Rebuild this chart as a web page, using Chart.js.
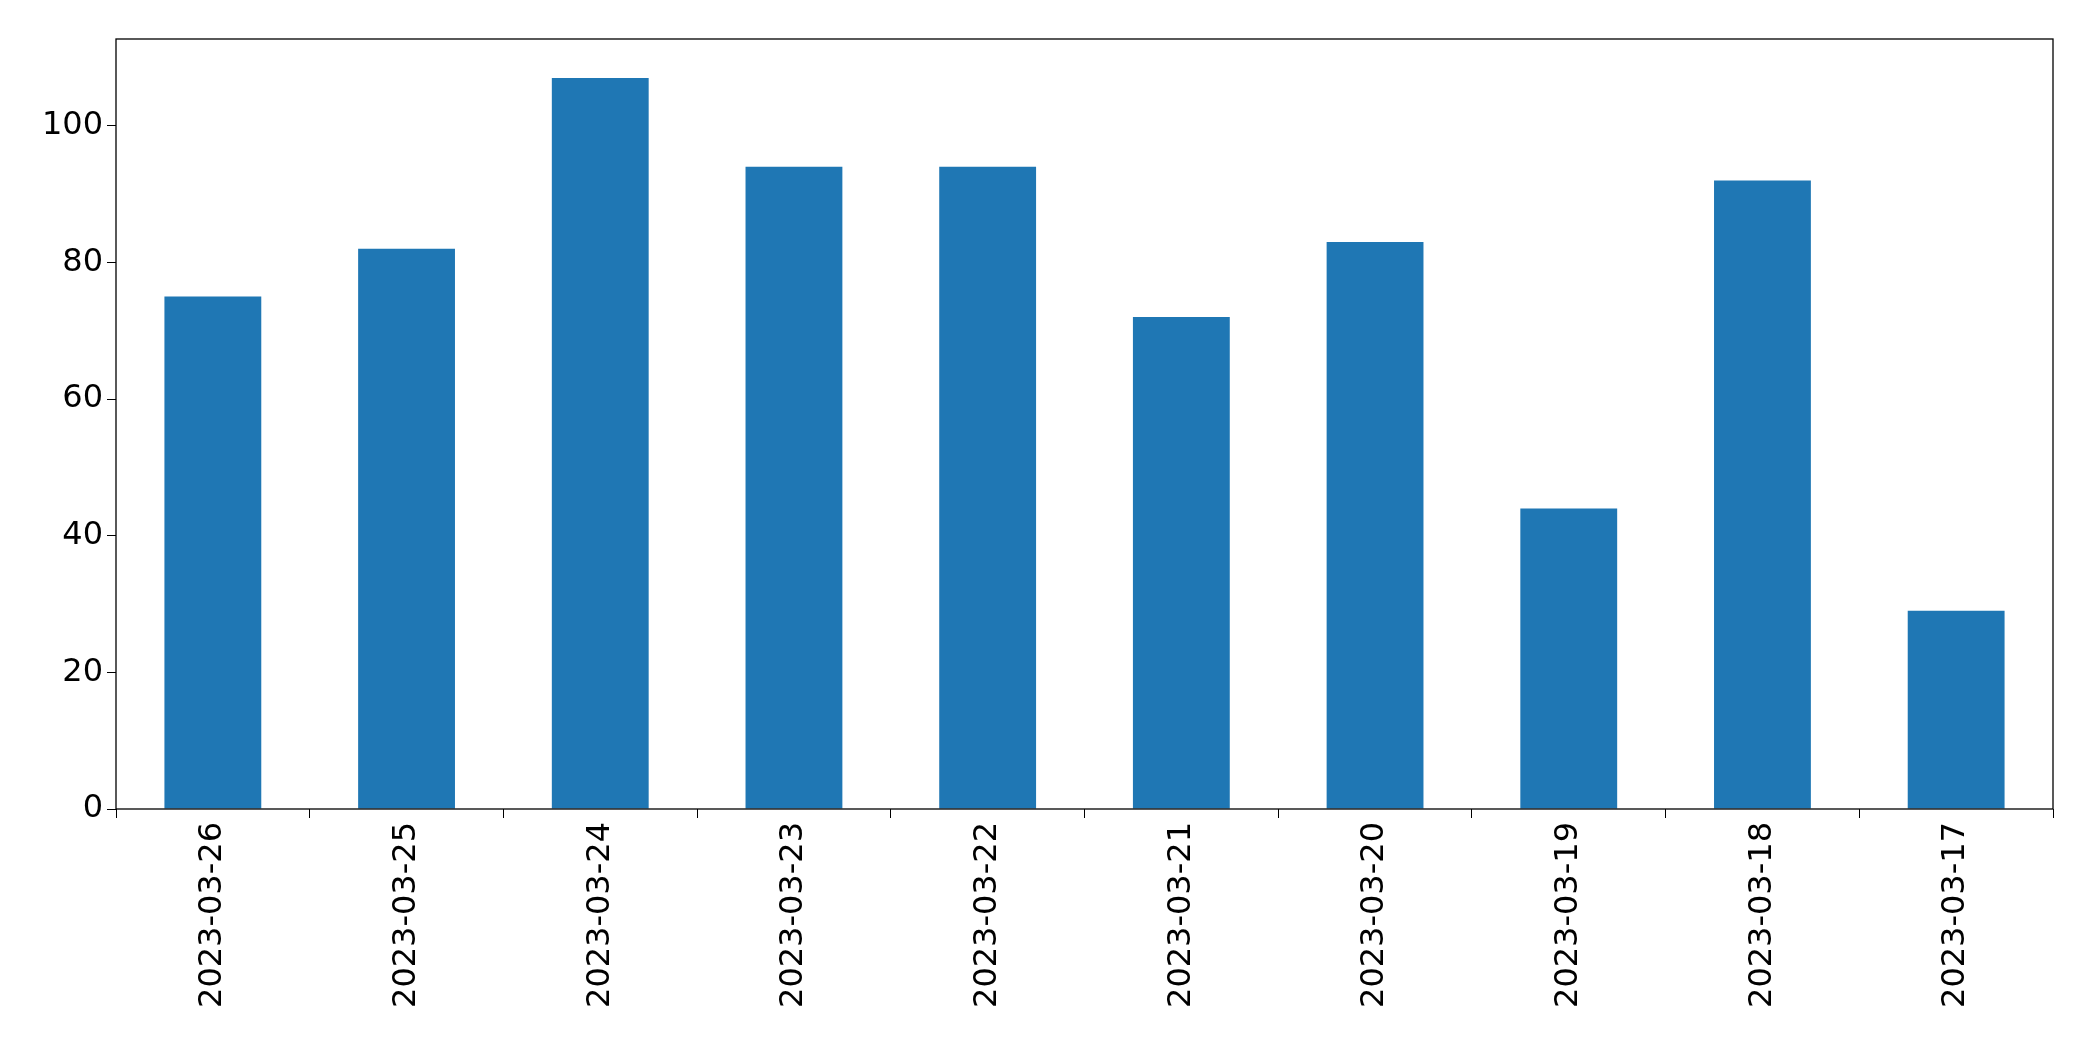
<!DOCTYPE html>
<html><head><meta charset="utf-8">
<script src="https://cdn.jsdelivr.net/npm/chart.js@4/dist/chart.umd.min.js"></script>
<style>html,body{margin:0;padding:0;background:#fff}#wrap{width:2093px;height:1061px}</style>
</head><body><div id="wrap"><canvas id="c"></canvas></div>
<script>
const labels = ["2023-03-26","2023-03-25","2023-03-24","2023-03-23","2023-03-22","2023-03-21","2023-03-20","2023-03-19","2023-03-18","2023-03-17"];
const values = [75, 82, 107, 94, 94, 72, 83, 44, 92, 29];
const yTicks = [0, 20, 40, 60, 80, 100];

// box around the plot area, like matplotlib spines
const frame = {
  id: "frame",
  afterDraw(chart) {
    const a = chart.chartArea, ctx = chart.ctx;
    ctx.save();
    ctx.strokeStyle = "#000";
    ctx.lineWidth = 1.3;
    ctx.strokeRect(a.left, a.top, a.right - a.left, a.bottom - a.top);
    ctx.restore();
  }
};

new Chart(document.getElementById("c"), {
  type: "bar",
  plugins: [frame],
  data: {
    labels: labels,
    datasets: [{ data: values, backgroundColor: "#1f77b4", barPercentage: 0.5, categoryPercentage: 1 }]
  },
  options: {
    responsive: true,
    maintainAspectRatio: false,
    animation: false,
    layout: { padding: { top: 39, right: 40, left: 0, bottom: 0 } },
    plugins: { legend: { display: false }, tooltip: { enabled: false } },
    scales: {
      x: {
        grid: { drawOnChartArea: false, tickLength: 9, color: "#000" },
        border: { display: false },
        ticks: { color: "#000", font: { family: "DejaVu Sans", size: 32 }, maxRotation: 90, minRotation: 90, padding: 4 },
        afterFit(s) { s.height = 252; }
      },
      y: {
        min: 0, max: 112.7,
        afterBuildTicks(s) { s.ticks = yTicks.map(v => ({ value: v })); },
        grid: { drawOnChartArea: false, tickLength: 9, color: "#000" },
        border: { display: false },
        ticks: { color: "#000", font: { family: "DejaVu Sans", size: 32 }, padding: 4 },
        afterFit(s) { s.width = 116; }
      }
    }
  }
});
</script></body></html>
